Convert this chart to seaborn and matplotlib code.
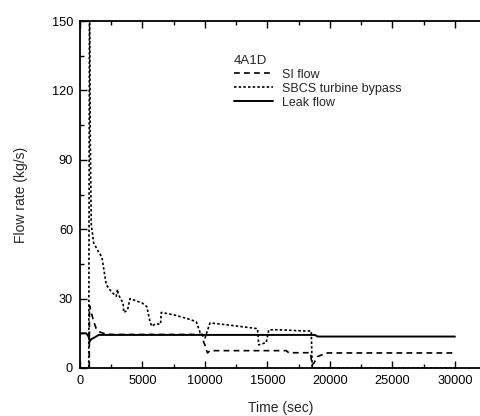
import matplotlib
matplotlib.use("Agg")
import matplotlib.pyplot as plt
import seaborn as sns
import pandas as pd
from matplotlib.ticker import MultipleLocator

# ---- data ----
leak_t = [0, 500, 700, 780, 900, 1100, 1500, 18800, 19000, 30000]
leak_v = [15, 15, 13.5, 11.5, 12.5, 13, 14.3, 14.3, 13.6, 13.6]

si_t = [0, 740, 760, 900, 1100, 1300, 1600, 2000, 2500, 9800, 9900, 10000, 10100, 10200,
        10400, 16500, 16700, 18450, 18550, 18700, 19000, 19700, 30000]
si_v = [0, 0, 27, 24, 20, 17, 15.5, 14.8, 14.5, 14.5, 11, 10, 8, 6.5,
        7.5, 7.5, 6.6, 6.6, 1.3, 2, 4.9, 6.5, 6.5]

sbcs_t = [0, 700, 760, 820, 900, 1100, 1500, 1750, 2100, 2500, 2900, 3000, 3050, 3450,
          3500, 3800, 4000, 5000, 5350, 5600, 5750, 6000, 6450, 6500, 7500, 8800, 9300,
          9600, 10000, 10400, 12000, 13500, 14200, 14300, 14900, 15100, 16000, 18000,
          18500, 18580, 30000]
sbcs_v = [0, 0, 165, 100, 62, 54, 50, 48, 36, 33, 31, 34, 32, 28,
          24, 25, 30, 28, 26.5, 20, 18, 19, 19, 24, 23, 21, 20,
          15.5, 13, 19.5, 18.5, 17.5, 17, 10, 11, 16.5, 16.5, 16,
          16, 0, 0]

legend_title = "4A1D"
labels = ["SI flow", "SBCS turbine bypass", "Leak flow"]

sns.set_style("ticks")
plt.rcParams['font.family'] = ['Liberation Sans', 'DejaVu Sans']

fig = plt.figure(figsize=(4.8, 4.16), dpi=100)
ax = fig.add_axes([80 / 480, (416 - 368) / 416, 1.0 - 80 / 480 + 0.002, (368 - 21) / 416])

df_si = pd.DataFrame({"t": si_t, "v": si_v})
df_sb = pd.DataFrame({"t": sbcs_t, "v": sbcs_v})
df_lk = pd.DataFrame({"t": leak_t, "v": leak_v})

sns.lineplot(data=df_si, x="t", y="v", ax=ax, color="black", lw=1.2,
             estimator=None, sort=False, label=labels[0], dashes=False)
ax.lines[-1].set_dashes((3.5, 2.5))
sns.lineplot(data=df_sb, x="t", y="v", ax=ax, color="black", lw=1.2,
             estimator=None, sort=False, label=labels[1], dashes=False)
ax.lines[-1].set_dashes((1.5, 1.3))
sns.lineplot(data=df_lk, x="t", y="v", ax=ax, color="black", lw=1.4,
             estimator=None, sort=False, label=labels[2])

ax.set_xlim(0, 32080)
ax.set_ylim(0, 150)
ax.xaxis.set_major_locator(MultipleLocator(5000))
ax.xaxis.set_minor_locator(MultipleLocator(2500))
ax.yaxis.set_major_locator(MultipleLocator(30))
ax.yaxis.set_minor_locator(MultipleLocator(15))
ax.tick_params(which="both", direction="in", top=True, right=False, labelsize=9.2,
               width=1.0, colors="black")
ax.tick_params(which="major", length=5, pad=5)
ax.tick_params(which="minor", length=3)
for s in ["left", "bottom", "top"]:
    ax.spines[s].set_visible(True)
    ax.spines[s].set_linewidth(1.3)
    ax.spines[s].set_color("black")
ax.spines["right"].set_visible(False)

ax.set_xlabel("Time (sec)", fontsize=10, labelpad=10)
ax.set_ylabel("Flow rate (kg/s)", fontsize=10, labelpad=17)

leg = ax.legend(title=legend_title, loc="upper left", bbox_to_anchor=(225 / 480, 1 - 46 / 416),
                bbox_transform=fig.transFigure, frameon=False, fontsize=9, title_fontsize=9.5,
                handlelength=3.1, handletextpad=0.75, labelspacing=0.16, borderpad=0.2,
                alignment="left")

fig.savefig("out.png", dpi=100)
